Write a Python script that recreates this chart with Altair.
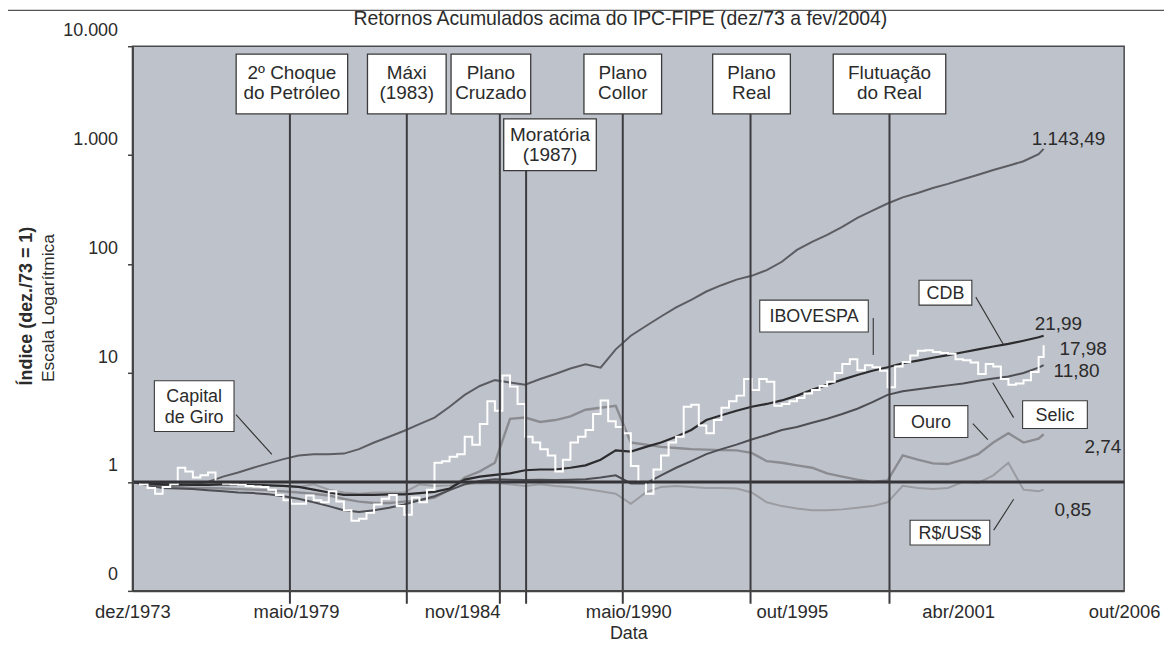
import altair as alt
import pandas as pd

FONT = "Liberation Sans"
TXT = "#2b2b2b"

# ------------------------------------------------------------------ data
# time grids in decimal years (dez/1973 ... fev/2004)
semi_years = [round(1973 + 11 / 12 + 0.5 * k, 4) for k in range(61)] + [round(2004 + 1 / 12, 4)]
quarter_years = [round(1973 + 11 / 12 + 0.25 * k, 4) for k in range(121)] + [round(2004 + 1 / 12, 4)]

capital_de_giro = [1.0, 0.95, 0.92, 0.93, 0.95, 1.0, 1.12, 1.22, 1.35, 1.48,
                   1.62, 1.75, 1.8, 1.8, 1.82, 2.0, 2.3, 2.6, 2.95, 3.4,
                   3.9, 4.9, 6.3, 7.6, 8.6, 8.2, 7.8, 8.8, 9.8, 11.0,
                   12.0, 11.2, 16.5, 22, 27, 33, 40, 47, 56, 64,
                   72, 78, 88, 105, 135, 160, 185, 220, 265, 310,
                   360, 410, 450, 500, 545, 600, 660, 730, 800, 880,
                   1020, 1143.49]

cdb = [1.0, 0.97, 0.95, 0.95, 0.94, 0.94, 0.95, 0.95, 0.94, 0.93,
       0.92, 0.9, 0.85, 0.8, 0.76, 0.76, 0.76, 0.77, 0.77, 0.79,
       0.81, 0.87, 1.05, 1.12, 1.16, 1.2, 1.28, 1.3, 1.3, 1.35,
       1.42, 1.6, 1.95, 1.9, 2.1, 2.3, 2.6, 3.0, 3.7, 4.1,
       4.5, 4.9, 5.2, 5.6, 6.2, 7.0, 7.8, 8.7, 9.6, 10.5,
       11.3, 12.3, 13.0, 13.8, 14.6, 15.5, 16.5, 17.5, 18.5, 19.8,
       21.3, 21.99]

selic = [1.0, 0.93, 0.88, 0.87, 0.86, 0.84, 0.82, 0.8, 0.79, 0.77,
         0.74, 0.7, 0.65, 0.6, 0.55, 0.53, 0.55, 0.58, 0.62, 0.68,
         0.74, 0.84, 0.95, 1.02, 1.06, 1.05, 1.04, 1.05, 1.04, 1.05,
         1.06, 1.1, 1.15, 0.97, 0.97, 1.15, 1.35, 1.55, 1.8, 2.0,
         2.2, 2.45, 2.7, 3.0, 3.2, 3.5, 3.8, 4.2, 4.7, 5.4,
         6.3, 6.8, 7.1, 7.4, 7.7, 8.0, 8.5, 8.9, 9.3, 10.0,
         11.2, 11.80]

ouro = [1.0, 0.95, 0.92, 0.9, 0.88, 0.88, 0.87, 0.86, 0.85, 0.84,
        0.82, 0.8, 0.78, 0.75, 0.7, 0.66, 0.64, 0.64, 0.66, 0.68,
        0.72, 0.85, 1.1, 1.25, 1.5, 3.8, 3.9, 3.55, 3.7, 4.0,
        4.6, 4.8, 5.0, 2.3, 2.2, 2.1, 2.05, 2.0, 1.98, 1.96,
        1.95, 1.85, 1.55, 1.5, 1.42, 1.35, 1.2, 1.12, 1.05, 1.0,
        1.03, 1.75, 1.6, 1.48, 1.46, 1.6, 1.8, 2.3, 2.8, 2.3,
        2.5, 2.74]

rs_us = [1.0, 0.98, 0.97, 0.96, 0.96, 0.95, 0.95, 0.94, 0.93, 0.93,
         0.92, 0.9, 0.95, 0.85, 0.8, 0.78, 0.8, 0.8, 0.8, 0.95,
         0.92, 0.93, 0.95, 0.97, 0.98, 0.95, 0.92, 0.95, 0.92, 0.9,
         0.86, 0.82, 0.78, 0.63, 0.8, 0.9, 0.92, 0.9, 0.88, 0.88,
         0.87, 0.8, 0.65, 0.6, 0.57, 0.55, 0.55, 0.56, 0.58, 0.6,
         0.65, 0.92, 0.88, 0.86, 0.88, 1.0, 0.98, 1.15, 1.5, 0.85,
         0.82, 0.85]

ibovespa = [1.0, 0.95, 0.88, 0.78, 0.9, 0.95, 1.35, 1.25, 1.1, 1.15,
            1.22, 1.0, 0.96, 0.95, 0.94, 0.92, 0.91, 0.9, 0.85, 0.76,
            0.68, 0.63, 0.63, 0.75, 0.68, 0.65, 0.82, 0.66, 0.55, 0.44,
            0.46, 0.52, 0.62, 0.7, 0.76, 0.6, 0.5, 0.72, 0.65, 0.85,
            1.5, 1.55, 1.7, 1.8, 2.6, 2.2, 3.4, 5.5, 4.5, 9.5,
            7.5, 5.2, 2.6, 2.3, 2.0, 1.75, 1.25, 1.6, 2.3, 2.6,
            3.0, 4.2, 5.6, 3.6, 3.2, 2.8, 1.4, 1.0, 0.78, 1.3,
            1.75, 2.3, 2.6, 4.9, 5.1, 3.3, 2.8, 3.7, 4.8, 5.5,
            6.2, 8.8, 7.0, 8.8, 8.3, 5.0, 5.2, 5.5, 5.9, 6.5,
            7.0, 7.6, 8.3, 10.0, 12.1, 13.4, 10.6, 11.8, 11.3, 10.5,
            7.4, 11.5, 12.6, 14.5, 16.0, 16.2, 15.6, 15.3, 15.0, 13.4,
            13.1, 12.5, 9.8, 12.1, 11.5, 8.8, 7.8, 8.0, 8.6, 10.2,
            14.0, 17.98]

end_labels = ["1.143,49", "21,99", "17,98", "11,80", "2,74", "0,85"]

event_names = ["2º Choque\ndo Petróleo", "Máxi\n(1983)", "Plano\nCruzado",
               "Moratória\n(1987)", "Plano\nCollor", "Plano\nReal", "Flutuação\ndo Real"]
event_years = [1979.13, 1983.0, 1986.08, 1986.95, 1990.15, 1994.38, 1998.98]

x_tick_years = [1973.917, 1979.333, 1984.833, 1990.333, 1995.75, 2001.25, 2006.75]
x_tick_labels = ["dez/1973", "maio/1979", "nov/1984", "maio/1990", "out/1995", "abr/2001", "out/2006"]
y_tick_values = [0.1, 1, 10, 100, 1000, 10000]
y_tick_labels = ["0", "1", "10", "100", "1.000", "10.000"]

title_text = "Retornos Acumulados acima do IPC-FIPE (dez/73 a fev/2004)"

# ------------------------------------------------------------------ layout / style
W, H = 996, 547
X0, X1 = 1973.917, 2006.75
PPY = W / (X1 - X0)
LH = 20  # line height of two-line box texts

event_row = [0, 0, 0, 1, 0, 0, 0]
event_box_w = [112, 79, 80, 93, 78, 78, 113]
event_box_shift = [2, 0, -9, 24, 0, 1, 0]
row_box = {0: (8, 68, 37), 1: (73, 125, 99)}

series_style = [
    ("R$/US$", semi_years, rs_us, "#9a9ca1", "linear", 2.0),
    ("Ouro", semi_years, ouro, "#8a8c91", "linear", 2.4),
    ("Selic", semi_years, selic, "#4e4f54", "linear", 2.0),
    ("Capital de Giro", semi_years, capital_de_giro, "#5c5d62", "linear", 2.0),
    ("CDB", semi_years, cdb, "#2c2c2f", "linear", 2.2),
    ("IBOVESPA", quarter_years, ibovespa, "#ffffff", "step-after", 2.0),
]
end_series = ["Capital de Giro", "CDB", "IBOVESPA", "Selic", "Ouro", "R$/US$"]
end_offsets = [(-12, -10), (-9, -12), (16, 4), (10, 6), (41, 13), (11, 20)]

series_boxes = [
    ("Capital\nde Giro", 22, 102, 336, 387, (104, 370, 140, 410)),
    ("IBOVESPA", 630, 739, 255, 287, (744, 273, 744, 310)),
    ("CDB", 790, 843, 235, 260, (847, 252, 875, 300)),
    ("Selic", 894, 959, 356, 384, (885, 373, 864, 338)),
    ("Ouro", 765, 839, 361, 393, (844, 379, 859, 395)),
    ("R$/US$", 781, 861, 476, 501, (865, 486, 885, 455)),
]


def chain_expr(values, labels, geometric=False):
    expr = f"'{labels[-1]}'"
    for i in range(len(values) - 2, -1, -1):
        a, b = values[i], values[i + 1]
        mid = (a * b) ** 0.5 if geometric else (a + b) / 2
        expr = f"datum.value < {mid:.4f} ? '{labels[i]}' : ({expr})"
    return expr


xscale = alt.Scale(domain=[X0, X1], nice=False, zero=False)
yscale = alt.Scale(type="log", domain=[0.1, 10000], nice=False)

xaxis = alt.Axis(values=x_tick_years, labelExpr=chain_expr(x_tick_years, x_tick_labels),
                 title="Data", labelFontSize=18.5, titleFontSize=18, titleFontWeight="normal",
                 labelFont=FONT, titleFont=FONT, ticks=False, domainColor="#444",
                 domainWidth=2, grid=False, labelPadding=12, titlePadding=3,
                 labelFlush=False, labelOverlap=False, labelColor=TXT, titleColor=TXT,
                 zindex=1)
yaxis = alt.Axis(values=y_tick_values, labelExpr=chain_expr(y_tick_values, y_tick_labels, True),
                 title=None, labelFontSize=18, labelFont=FONT, tickSize=5, tickColor="#444",
                 tickWidth=1.5, domainColor="#444", domainWidth=2, grid=False,
                 labelPadding=10, labelOffset=-16, labelColor=TXT, labelFlush=False,
                 labelOverlap=False, zindex=1)

X = lambda f: alt.X(f, scale=xscale, axis=xaxis)
Y = lambda f: alt.Y(f, scale=yscale, axis=yaxis)

layers = []

# series lines
last_point = {}
for name, years, vals, color, interp, sw in series_style:
    df = pd.DataFrame({"t": years, "v": vals, "serie": name})
    last_point[name] = (years[-1], vals[-1])
    layers.append(alt.Chart(df).mark_line(color=color, strokeWidth=sw, interpolate=interp)
                  .encode(x=X("t:Q"), y=Y("v:Q")))

# baseline = 1 (IPC-FIPE)
layers.append(alt.Chart(pd.DataFrame({"v": [1]})).mark_rule(color="#343438", strokeWidth=3)
              .encode(y=Y("v:Q")))

# events: vertical lines + boxes
ev = pd.DataFrame({"t": event_years, "name": event_names, "row": event_row,
                   "w": event_box_w, "shift": event_box_shift})
ev["c"] = ev["t"] + ev["shift"] / PPY
ev["l"] = ev["c"] - ev["w"] / 2 / PPY
ev["r"] = ev["c"] + ev["w"] / 2 / PPY
for row, (top, bot, ymid) in row_box.items():
    sub = ev[ev["row"] == row]
    layers.append(alt.Chart(sub).mark_rule(color="#3c3c40", strokeWidth=2)
                  .encode(x=X("t:Q"), y=alt.value(bot), y2=alt.value(H + 13)))
    layers.append(alt.Chart(sub).mark_rect(fill="white", stroke="#3a3a3a", strokeWidth=1.3)
                  .encode(x=X("l:Q"), x2="r:Q", y=alt.value(top), y2=alt.value(bot)))
    layers.append(alt.Chart(sub).mark_text(fontSize=19, font=FONT, color=TXT, lineBreak="\n",
                                           lineHeight=LH, baseline="middle", align="center")
                  .encode(x=X("c:Q"), y=alt.value(ymid - LH / 2), text="name:N"))

# end-value labels
for lab, sname, (dx, dy) in zip(end_labels, end_series, end_offsets):
    t_end, v_end = last_point[sname]
    d = pd.DataFrame({"t": [t_end], "v": [v_end], "lab": [lab]})
    layers.append(alt.Chart(d).mark_text(fontSize=19, font=FONT, color=TXT, align="left",
                                         baseline="middle", dx=dx, dy=dy)
                  .encode(x=X("t:Q"), y=Y("v:Q"), text="lab:N"))

# series label boxes with pointers
one = pd.DataFrame({"a": [0]})
for text, x1, x2, y1, y2, (px1, py1, px2, py2) in series_boxes:
    nlines = text.count("\n") + 1
    layers.append(alt.Chart(one).mark_rule(color="#333", strokeWidth=1.1)
                  .encode(x=alt.value(px1), y=alt.value(py1), x2=alt.value(px2), y2=alt.value(py2)))
    layers.append(alt.Chart(one).mark_rect(fill="white", stroke="#3a3a3a", strokeWidth=1.1)
                  .encode(x=alt.value(x1), x2=alt.value(x2), y=alt.value(y1), y2=alt.value(y2)))
    layers.append(alt.Chart(one).mark_text(fontSize=18, font=FONT, color=TXT, lineBreak="\n",
                                           lineHeight=21, baseline="middle", align="center")
                  .encode(x=alt.value((x1 + x2) / 2),
                          y=alt.value((y1 + y2) / 2 + 1 - (nlines - 1) * 21 / 2),
                          text=alt.value(text)))

# y-axis title (two styles)
layers.append(alt.Chart(one).mark_text(fontSize=18, font=FONT, fontWeight="bold", color=TXT,
                                       angle=270, align="center", baseline="middle")
              .encode(x=alt.value(-106), y=alt.value(261), text=alt.value("Índice (dez./73 = 1)")))
layers.append(alt.Chart(one).mark_text(fontSize=17.5, font=FONT, color=TXT,
                                       angle=270, align="center", baseline="middle")
              .encode(x=alt.value(-84), y=alt.value(263), text=alt.value("Escala Logarítmica")))

# chart title
layers.append(alt.Chart(one).mark_text(fontSize=19.5, font=FONT, color=TXT,
                                       align="center", baseline="middle")
              .encode(x=alt.value(490), y=alt.value(-27), text=alt.value(title_text)))

# page rule at the very top (book header line)
layers.append(alt.Chart(one).mark_rule(color="#555", strokeWidth=1.2)
              .encode(x=alt.value(-125), x2=alt.value(W + 40), y=alt.value(-36)))

chart = alt.layer(*layers).properties(
    width=W, height=H,
    padding={"left": 125, "top": 37, "right": 40, "bottom": 59},
    autosize=alt.AutoSizeParams(type="none"),
    background="white",
).configure_view(fill="#bec2ca", stroke="#4a4a4e", strokeWidth=1.5)

chart.save("out.html", embed_options={"renderer": "svg", "actions": False})
